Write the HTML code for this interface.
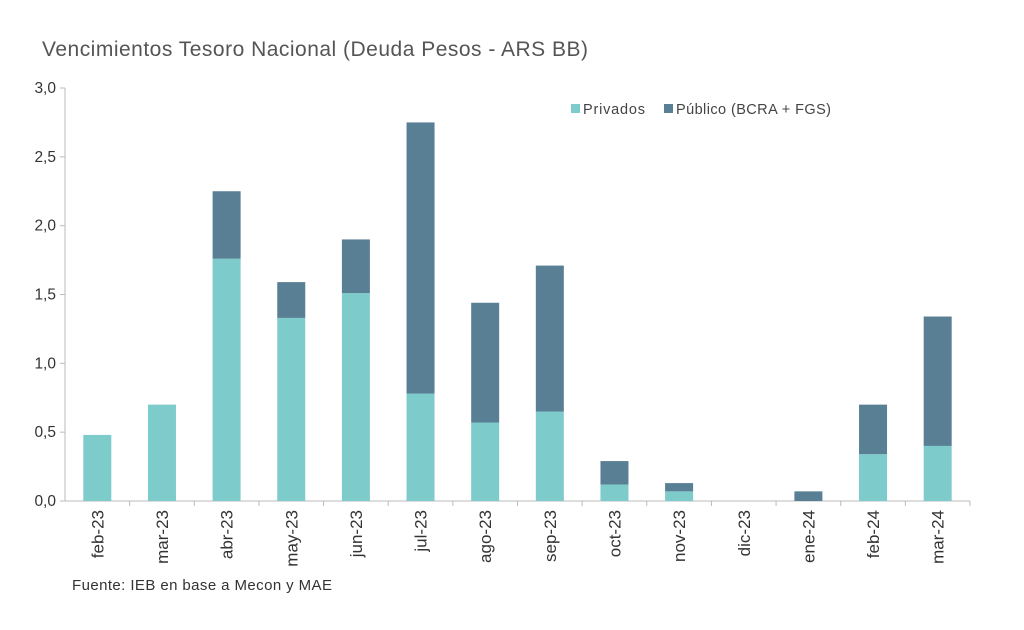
<!DOCTYPE html>
<html><head><meta charset="utf-8"><style>
body{margin:0;background:#fff;width:1024px;height:625px;overflow:hidden;font-family:"Liberation Sans",sans-serif;}
</style></head><body>
<svg id="c" width="1024" height="625">
<text x="42" y="56" font-size="21" fill="#555" textLength="546">Vencimientos Tesoro Nacional (Deuda Pesos - ARS BB)</text>
<text x="72" y="590" font-size="15" fill="#333" textLength="260">Fuente: IEB en base a Mecon y MAE</text>
<rect x="571" y="104" width="9" height="9" fill="#7ecbcc"/>
<text x="583" y="114" font-size="14.5" fill="#444" textLength="62">Privados</text>
<rect x="664" y="104" width="9" height="9" fill="#587f93"/>
<text x="676" y="114" font-size="14.5" fill="#444" textLength="155">Público (BCRA + FGS)</text>
</svg>
<script>
const categories=["feb-23","mar-23","abr-23","may-23","jun-23","jul-23","ago-23","sep-23","oct-23","nov-23","dic-23","ene-24","feb-24","mar-24"];
const privados=[0.48,0.70,1.76,1.33,1.51,0.78,0.57,0.65,0.12,0.07,0,0,0.34,0.40];
const publico=[0,0,0.49,0.26,0.39,1.97,0.87,1.06,0.17,0.06,0,0.07,0.36,0.94];
const yTicks=[0,0.5,1,1.5,2,2.5,3];
const yTickLabels=["0,0","0,5","1,0","1,5","2,0","2,5","3,0"];
const svg=document.getElementById('c');const NS="http://www.w3.org/2000/svg";
const y0=501,y1=88,x0=65,x1=970;
const y=v=>y0-(v/3)*(y0-y1);
const step=(x1-x0)/categories.length;
const xc=i=>x0+step*(i+0.5);
function mk(t,a){const e=document.createElementNS(NS,t);for(const k in a)e.setAttribute(k,a[k]);svg.appendChild(e);return e;}
const ax=mk('line',{x1:x0,y1:y1,x2:x0,y2:y0,stroke:'#bbb'});


const bx=mk('line',{x1:x0,y1:y0,x2:x1,y2:y0,stroke:'#bbb'});


yTicks.forEach((v,i)=>{
 const tk=mk('line',{x1:x0-5,y1:y(v),x2:x0,y2:y(v),stroke:'#bbb'});
 
 
 const t=mk('text',{x:x0-9,y:y(v)+5,'font-size':15.5,fill:'#333','text-anchor':'end'});
 t.textContent=yTickLabels[i];
 
 
});
categories.forEach((c,i)=>{
 const w=28,cx=xc(i);
 if(privados[i]>0){const r=mk('rect',{x:cx-w/2,y:y(privados[i]),width:w,height:y0-y(privados[i]),fill:'#7ecbcc'});
 
 }
 if(publico[i]>0){const top=privados[i]+publico[i];const r=mk('rect',{x:cx-w/2,y:y(top),width:w,height:y(privados[i])-y(top),fill:'#587f93'});
 
 }
 const tk=mk('line',{x1:x0+step*(i+1),y1:y0,x2:x0+step*(i+1),y2:y0+5,stroke:'#bbb'});
 
 
 const t=mk('text',{x:0,y:0,'font-size':17,fill:'#333','text-anchor':'end',transform:`translate(${cx+6},${y0+9}) rotate(-90)`});
 t.textContent=c;
 
 
});
</script>
</body></html>
